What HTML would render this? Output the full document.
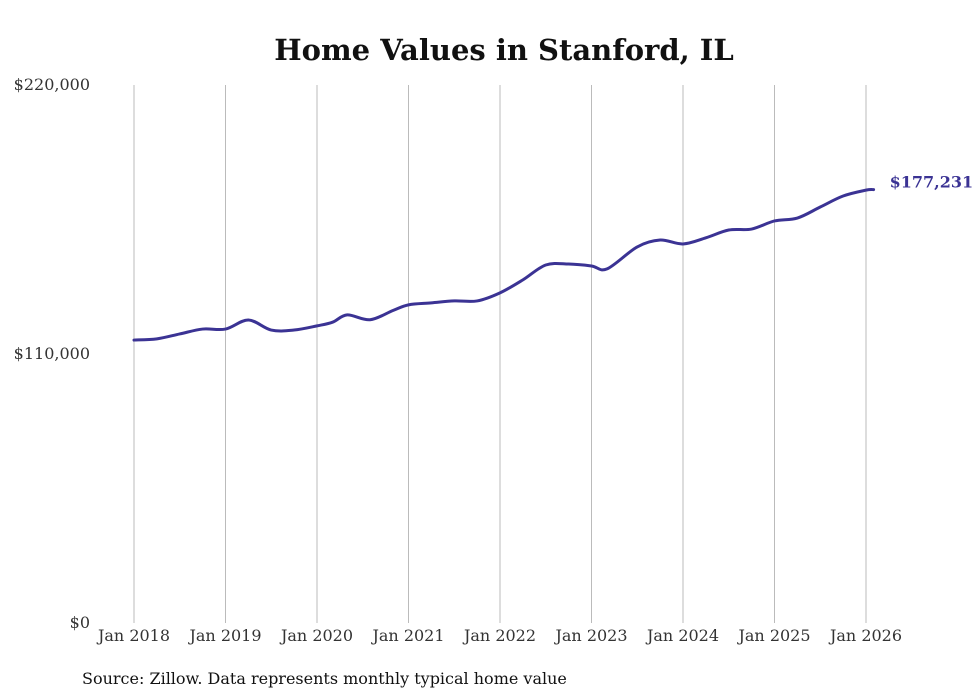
<!DOCTYPE html>
<html><head><meta charset="utf-8"><style>
body{margin:0;background:#fff;}
svg{display:block;font-family:"DejaVu Serif","Liberation Serif",serif;}
</style></head><body>
<svg id="chart" width="980" height="699" viewBox="0 0 980 699">
<text x="504" y="60" text-anchor="middle" font-size="29" font-weight="bold" fill="#111">Home Values in Stanford, IL</text>
<g id="grid"></g><g id="yaxis"></g><g id="xaxis"></g><g id="series"></g>
<text x="82" y="684" font-size="16" fill="#111">Source: Zillow. Data represents monthly typical home value</text>
</svg>
<script>
const times=[2018,2018.25,2018.5,2018.75,2019,2019.25,2019.5,2019.75,2020,2020.17,2020.33,2020.58,2020.83,2021,2021.25,2021.5,2021.75,2022,2022.25,2022.5,2022.75,2023,2023.17,2023.5,2023.75,2024,2024.25,2024.5,2024.75,2025,2025.25,2025.5,2025.75,2026,2026.083];
const values=[115700,116200,118200,120200,120200,123900,119800,119800,121500,123000,126000,124000,127800,130100,130900,131700,131700,135000,140300,146400,146800,146000,144800,153800,156600,155000,157500,160700,161100,164400,165600,170100,174600,177000,177231];
const yTicks=[0,110000,220000];
const yTickLabels=["$0","$110,000","$220,000"];
const xTicks=[2018,2019,2020,2021,2022,2023,2024,2025,2026];
const xTickLabels=["Jan 2018","Jan 2019","Jan 2020","Jan 2021","Jan 2022","Jan 2023","Jan 2024","Jan 2025","Jan 2026"];
const lastLabel="$177,231";
const NS="http://www.w3.org/2000/svg";
const x=t=>134+(t-2018)*91.5;
const y=v=>623-v/220000*538;
function mk(tag,attrs,parent){const e=document.createElementNS(NS,tag);for(const k in attrs)e.setAttribute(k,attrs[k]);parent.appendChild(e);return e;}
const grid=document.getElementById('grid'),ya=document.getElementById('yaxis'),xa=document.getElementById('xaxis'),se=document.getElementById('series');
xTicks.forEach((t,i)=>{
 const l=mk('line',{x1:x(t),x2:x(t),y1:85,y2:623,stroke:'#bbb','stroke-width':1},grid);
 
 
 const tx=mk('text',{x:x(t),y:641,'text-anchor':'middle','font-size':16,fill:'#333'},xa);
 tx.textContent=xTickLabels[i];
 
 
});
yTicks.forEach((v,i)=>{
 const tx=mk('text',{x:90,y:y(v)+5,'text-anchor':'end','font-size':16,fill:'#333'},ya);
 tx.textContent=yTickLabels[i];
 
 
});
const pts=times.map((t,i)=>[x(t),y(values[i])]);
let d='M'+pts[0][0]+','+pts[0][1];
for(let i=0;i<pts.length-1;i++){
 const p0=pts[Math.max(0,i-1)],p1=pts[i],p2=pts[i+1],p3=pts[Math.min(pts.length-1,i+2)];
 const c1=[p1[0]+(p2[0]-p0[0])/6,p1[1]+(p2[1]-p0[1])/6],c2=[p2[0]-(p3[0]-p1[0])/6,p2[1]-(p3[1]-p1[1])/6];
 d+=` C${c1[0]},${c1[1]} ${c2[0]},${c2[1]} ${p2[0]},${p2[1]}`;
}
const path=mk('path',{d:d,fill:'none',stroke:'#3b3394','stroke-width':3,'stroke-linejoin':'round','stroke-linecap':'round'},se);


const last=pts[pts.length-1];
const lab=mk('text',{x:last[0]+16,y:last[1]-2,'font-size':16,'font-weight':'bold',fill:'#3b3394'},se);
lab.textContent=lastLabel;


</script>
</body></html>
